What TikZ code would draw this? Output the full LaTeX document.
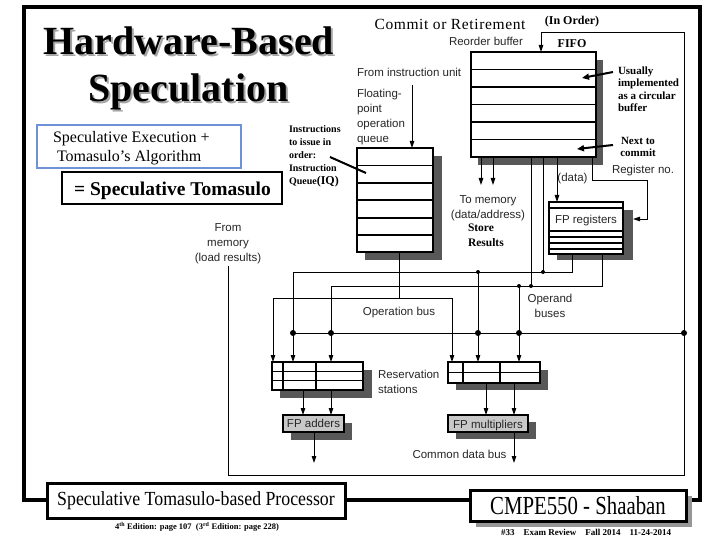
\documentclass[tikz,border=0pt]{standalone}
\usepackage{fontspec}
\setmainfont{Liberation Serif}
\newfontfamily\arialf{Liberation Sans}
\usetikzlibrary{arrows.meta}
\definecolor{shd}{RGB}{88,88,88}
\definecolor{bluebx}{RGB}{110,145,215}
\definecolor{fpgray}{RGB}{200,200,200}
\definecolor{tshd}{RGB}{165,165,165}
\definecolor{cshd}{RGB}{150,150,150}
\newcommand{\shtxt}[1]{\rlap{\raisebox{-2pt}{\hspace{2pt}\textcolor{tshd}{#1}}}#1}
\begin{document}
\begin{tikzpicture}[x=1pt,y=-1pt,
  every node/.style={inner sep=0pt,outer sep=0pt},
  lbl/.style={font=\arialf\fontsize{11.5}{15}\selectfont,text=black!85},
  nt/.style={font=\bfseries\fontsize{11}{12.5}\selectfont},
  ttl/.style={font=\bfseries\fontsize{40}{46}\selectfont},
  blk/.style={draw,fill=white,line width=1.1pt,anchor=north west},
  conn/.style={line width=0.9pt},
  arr/.style={conn,-{Triangle[length=7pt,width=4.5pt]}},
  thk/.style={line width=2pt},
  thkarr/.style={line width=2pt,-{Triangle[length=7pt,width=6pt]}},
  bdot/.style={circle,fill,minimum size=6pt},
  sdot/.style={circle,fill,minimum size=4pt},
  rowln/.style={line width=1.1pt},
]
\useasboundingbox (0,0) rectangle (720,540);
% outer frame
\draw[line width=4pt] (24,7) rectangle (700,500);

% title
\node[ttl,anchor=base] (t1) at (189,54.5) {\shtxt{Hardware-Based}};
\node[ttl,anchor=base] (t2) at (188.5,102) {\shtxt{Speculation}};

% blue box
\node[draw=bluebx,line width=2.2pt,minimum width=204pt,minimum height=43pt,anchor=north west] (bbox) at (37,125) {};
\node[font=\fontsize{16}{18}\selectfont,anchor=base west] (bb1) at (53,143) {Speculative Execution +};
\node[font=\fontsize{16}{18}\selectfont,anchor=base west] (bb2) at (57,162) {Tomasulo’s Algorithm};
% black box
\node[draw,line width=2pt,minimum width=220pt,minimum height=32pt,anchor=north west] (kbox) at (62,172) {};
\node[font=\bfseries\fontsize{19.5}{22}\selectfont,anchor=base] (kbt) at (172.5,196) {= Speculative Tomasulo};

% shadows
\fill[shd] (478,60) rectangle (603,165);
\fill[shd] (365,156) rectangle (442,260);
\fill[shd] (557,210) rectangle (633,260);
\fill[shd] (280,370) rectangle (372,398);
\fill[shd] (456,370) rectangle (548,390);
\fill[shd] (291,423) rectangle (352,440);
\fill[shd] (456,422) rectangle (536,439);

% boxes
\node[blk,minimum width=125pt,minimum height=105pt] (rob) at (471,52) {};
\node[blk,minimum width=76pt,minimum height=104pt] (iq) at (357,148) {};
\node[blk,minimum width=74pt,minimum height=52pt] (fpr) at (549,202) {};
\node[blk,minimum width=91pt,minimum height=28pt] (rsa) at (272,362) {};
\node[blk,minimum width=92pt,minimum height=21pt] (rsm) at (448,362) {};
\node[blk,fill=fpgray,minimum width=61pt,minimum height=17pt] (fpa) at (283,415) {};
\node[blk,fill=fpgray,minimum width=80pt,minimum height=17pt] (fpm) at (448,415) {};

% rows
\foreach \yy in {69.5,87,104.5,122,139.5} \draw[rowln] (471,\yy) -- (596,\yy);
\foreach \yy in {165.5,183,200,218,235} \draw[rowln] (357,\yy) -- (433,\yy);
\foreach \yy in {208,237,243,249} \draw[rowln] (549,\yy) -- (623,\yy);
\draw[line width=2pt] (549,231) -- (623,231);
\foreach \xx in {283,316} \draw[rowln] (\xx,362) -- (\xx,390);
\foreach \yy in {371.5,380.5} \draw[rowln] (272,\yy) -- (363,\yy);
\draw[rowln] (463,362) -- (463,383);
\draw[line width=2pt] (500,362) -- (500,383);
\draw[rowln] (448,372.5) -- (540,372.5);

% box texts
\node[lbl,anchor=base] (fprt) at (586,224) {FP registers};
\node[lbl,font=\arialf\fontsize{7}{8}\selectfont] (fprd) at (586,232.5) {...};
\node[lbl] (fpat) at (fpa.center) {FP adders};
\node[lbl,anchor=base] (fpmt) at (488,428) {FP multipliers};

% coordinates
\coordinate (fiu) at (412,85);
\coordinate (opj) at (399,298);
\coordinate (opl) at (273,298);
\coordinate (opr) at (452,298);
\coordinate (m1) at (481,185);
\coordinate (m2) at (493,185);
\coordinate (fdata) at (557,0);
\coordinate (rn1) at (592,180);
\coordinate (rn2) at (647,180);
\coordinate (rn3) at (647,219);
\coordinate (rn4) at (633,219);
\coordinate (ob1) at (572,272);
\coordinate (ob1l) at (293,272);
\coordinate (ob2) at (602,286);
\coordinate (ob2l) at (331,286);
\coordinate (rj1) at (543,272);
\coordinate (rj2) at (531,286);
\coordinate (mj1) at (478,272);
\coordinate (mj2) at (519,286);
\coordinate (cdl) at (293,333);
\coordinate (cdr) at (684,333);
\coordinate (lm) at (228,266);
\coordinate (fbl) at (228,475);
\coordinate (fbr) at (684,475);
\coordinate (ftr) at (684,32);
\coordinate (fio) at (541,32);
\coordinate (ra1) at (303,0);
\coordinate (ra2) at (331,0);
\coordinate (rm1) at (486,0);
\coordinate (rm2) at (514,0);
\coordinate (ao) at (314,463);
\coordinate (mo) at (514,463);
\coordinate (iqa) at (330,157);
\coordinate (iqb) at (366,173);
\coordinate (ua) at (613,72);
\coordinate (ub) at (582,78);
\coordinate (na) at (613,145);
\coordinate (nb) at (577,149);

% connectors
\draw[arr] (fiu) -- (iq.north -| fiu);
\draw[conn] (iq.south -| opj) -- (opj);
\draw[conn] (opl) -- (opr);
\draw[arr] (opl) -- (rsa.north -| opl);
\draw[arr] (opr) -- (rsm.north -| opr);
\draw[arr] (rob.south -| m1) -- (m1);
\draw[arr] (rob.south -| m2) -- (m2);
\draw[arr] (rob.south -| fdata) -- (fpr.north -| fdata);
\draw[arr] (rob.south -| rn1) -- (rn1) -- (rn2) -- (rn3) -- (rn4);
\draw[arr] (fpr.south -| ob1) -- (ob1) -- (ob1l) -- (rsa.north -| ob1l);
\draw[arr] (fpr.south -| ob2) -- (ob2) -- (ob2l) -- (rsa.north -| ob2l);
\draw[conn] (rob.south -| rj1) -- (rj1);
\draw[conn] (rob.south -| rj2) -- (rj2);
\draw[arr] (mj1) -- (rsm.north -| mj1);
\draw[arr] (mj2) -- (rsm.north -| mj2);
\draw[conn] (cdl) -- (cdr);
\draw[arr] (lm) -- (fbl) -- (fbr) -- (ftr) -- (fio) -- (rob.north -| fio);
\draw[arr] (rsa.south -| ra1) -- (fpa.north -| ra1);
\draw[arr] (rsa.south -| ra2) -- (fpa.north -| ra2);
\draw[arr] (rsm.south -| rm1) -- (fpm.north -| rm1);
\draw[arr] (rsm.south -| rm2) -- (fpm.north -| rm2);
\draw[arr] (fpa.south -| ao) -- (ao);
\draw[arr] (fpm.south -| mo) -- (mo);
\draw[thk] (iqa) -- (iqb);
\draw[thkarr] (ua) -- (ub);
\draw[thkarr] (na) -- (nb);

% dots
\node[sdot] (d1) at (rj1) {};
\node[sdot] (d2) at (mj1) {};
\node[sdot] (d3) at (rj2) {};
\node[sdot] (d4) at (mj2) {};
\node[bdot] (d5) at (cdl) {};
\node[bdot] (d6) at (cdl -| ob2l) {};
\node[bdot] (d7) at (cdl -| mj1) {};
\node[bdot] (d8) at (cdl -| mj2) {};
\node[bdot] (d9) at (cdr) {};

% labels
\node[font=\fontsize{15.5}{18}\selectfont\addfontfeature{LetterSpace=4},anchor=base] (cor) at (450,30) {Commit or Retirement};
\node[font=\bfseries\fontsize{12}{14}\selectfont,anchor=base] (ino) at (572,25) {(In Order)};
\node[lbl,anchor=base] (rbl) at (486,46) {Reorder buffer};
\node[font=\bfseries\fontsize{12}{14}\selectfont,anchor=base] (fifo) at (572,48) {FIFO};
\node[lbl,anchor=base west] (fiut) at (357,76.5) {From instruction unit};
\node[lbl,anchor=north west,align=left] (fpoq) at (357,88.7) {Floating-\\point\\operation\\queue};
\node[nt,anchor=north west,align=left] (usu) at (618,66.5) {Usually\\implemented\\as a circular\\buffer};
\node[nt,anchor=north,align=center,font=\bfseries\fontsize{11}{12}\selectfont] (ntc) at (638,137.5) {Next to\\commit};
\node[lbl,anchor=base west] (rgn) at (612,173.5) {Register no.};
\node[lbl,anchor=base] (dat) at (572.5,182) {(data)};
\node[lbl,anchor=north,align=center] (tmem) at (488,195.3) {To memory\\(data/address)};
\node[font=\bfseries\fontsize{11.5}{14}\selectfont,anchor=base west] (sto) at (468,231) {Store};
\node[font=\bfseries\fontsize{11.5}{14}\selectfont,anchor=base west] (res) at (468,246) {Results};
\node[lbl,anchor=north,align=center] (fmem) at (228,223.7) {From\\memory\\(load results)};
\node[font=\bfseries\fontsize{10}{12.9}\selectfont,anchor=north west,align=left] (inst) at (289,125.7) {Instructions\\to issue in\\order:\\Instruction\\Queue{\fontsize{12}{12.9}\selectfont(IQ)}};
\node[lbl,anchor=base] (opbus) at (399,315) {Operation bus};
\node[lbl,anchor=north,align=center] (opb) at (550,293.7) {Operand\\buses};
\node[lbl,anchor=north west,align=left] (rst) at (378,369.8) {Reservation\\stations};
\node[lbl,anchor=base] (cdb) at (459.5,458) {Common data bus};

% bottom boxes
\node[draw,fill=white,line width=3pt,anchor=north west,minimum width=298pt,minimum height=35pt] (stbp) at (47,483) {};
\node (stbpt) at (stbp.center) {\fontsize{20}{22}\selectfont\scalebox{0.89}[1]{Speculative Tomasulo-based Processor}};
\fill[cshd] (476,496) rectangle (692,527);
\node[draw,fill=white,line width=3pt,anchor=north west,minimum width=216pt,minimum height=31pt] (cmpe) at (470,490) {};
\node (cmpet) at (cmpe.center) {\fontsize{26}{28}\selectfont\scalebox{0.8}[1]{CMPE550 - Shaaban}};
\node[font=\bfseries\fontsize{8.5}{10}\selectfont] (ed) at (197,527) {4\textsuperscript{th} Edition: page 107\ \ (3\textsuperscript{rd} Edition: page 228)};
\node[font=\bfseries\fontsize{9}{10}\selectfont] (exr) at (586,532) {\#33\quad Exam Review\quad Fall 2014\quad 11-24-2014};
\end{tikzpicture}
\end{document}
